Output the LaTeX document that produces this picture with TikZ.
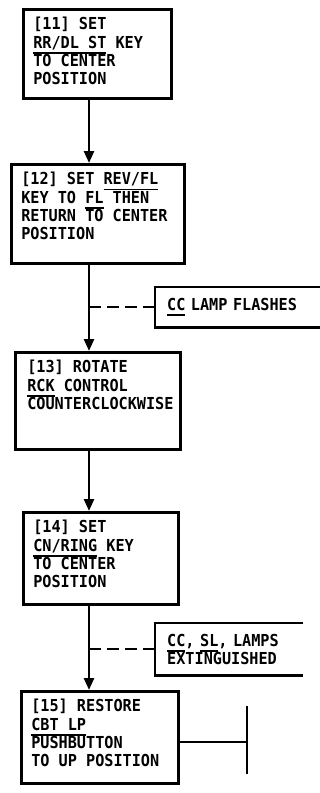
\documentclass[tikz,border=0pt]{standalone}
\usepackage{fontspec}
\setmainfont{DejaVu Sans Mono}[FakeStretch=0.92]
\usetikzlibrary{arrows.meta}

% nome de tecla sublinhado
\newcommand{\keyul}[1]{\leavevmode\setbox0\hbox{#1}\rlap{\rule[-5.5pt]{\wd0}{1.8pt}}\box0\relax}
% texto do passo, alinhado no topo da caixa
\newcommand{\steptext}[3]{\parbox[t][#1][t]{#2}{\raggedright #3}}

\begin{document}
\begin{tikzpicture}[x=1pt, y=-1pt, font=\fontsize{16.5}{18.3}\selectfont\bfseries,
    stepbox/.style={draw, line width=2.6pt, anchor=north west, inner xsep=10pt, inner ysep=8pt},
    notebox/.style={anchor=north west, align=left, inner xsep=12pt, inner ysep=0pt},
    frame/.style={line width=2.6pt},
    flow/.style={line width=2.6pt, -{Triangle[length=12pt,width=10pt]}},
    tie/.style={line width=2.2pt, dash pattern=on 12pt off 6pt}]
    \useasboundingbox (0,0) rectangle (320,793);
    % passos do procedimento
    \node[stepbox] (b11) at (22,8)
      {\steptext{73pt}{128pt}{[11] SET\\\keyul{RR/DL ST} KEY\\TO CENTER\\POSITION}};
    \node[stepbox] (b12) at (10,163)
      {\steptext{83pt}{153pt}{[12] SET \keyul{REV/FL}\\KEY TO \keyul{FL} THEN\\RETURN TO CENTER\\POSITION}};
    \node[stepbox, inner xsep=12pt] (b13) at (14,351)
      {\steptext{81pt}{141pt}{[13] ROTATE\\\keyul{RCK} CONTROL\\COUNTERCLOCKWISE}};
    \node[stepbox] (b14) at (22,511)
      {\steptext{76pt}{135pt}{[14] SET\\\keyul{CN/RING} KEY\\TO CENTER\\POSITION}};
    \node[stepbox] (b15) at (20,690)
      {\steptext{76pt}{137pt}{[15] RESTORE\\\keyul{CBT LP}\\PUSHBUTTON\\TO UP POSITION}};
    % respostas das lampadas (caixas abertas a direita)
    \node[notebox, text width=141pt, minimum height=40pt] (flash) at (155,287)
      {\keyul{CC} LAMP FLASHES};
    \node[notebox, text width=124pt, minimum height=52pt] (extg) at (155,623)
      {\keyul{CC}, \keyul{SL}, LAMPS\\EXTINGUISHED};
    \draw[frame] (flash.north east) -- (flash.north west) -- (flash.south west) -- (flash.south east);
    \draw[frame] (extg.north east) -- (extg.north west) -- (extg.south west) -- (extg.south east);
    % linha principal do fluxo
    \coordinate (trunk) at (89,0);
    \draw[flow] (b11.south -| trunk) -- (b12.north -| trunk);
    \draw[flow] (b12.south -| trunk) -- (b13.north -| trunk);
    \draw[flow] (b13.south -| trunk) -- (b14.north -| trunk);
    \draw[flow] (b14.south -| trunk) -- (b15.north -| trunk);
    % ligacoes tracejadas para as respostas
    \draw[tie] (trunk |- flash.west) -- (flash.west);
    \draw[tie] (trunk |- extg.west) -- (extg.west);
    % fim do procedimento
    \coordinate (stub) at (247,742);
    \coordinate (stubtop) at (247,706);
    \coordinate (stubbot) at (247,774);
    \draw[frame] (b15.east |- stub) -- (stub);
    \draw[frame] (stubtop) -- (stubbot);
\end{tikzpicture}
\end{document}
